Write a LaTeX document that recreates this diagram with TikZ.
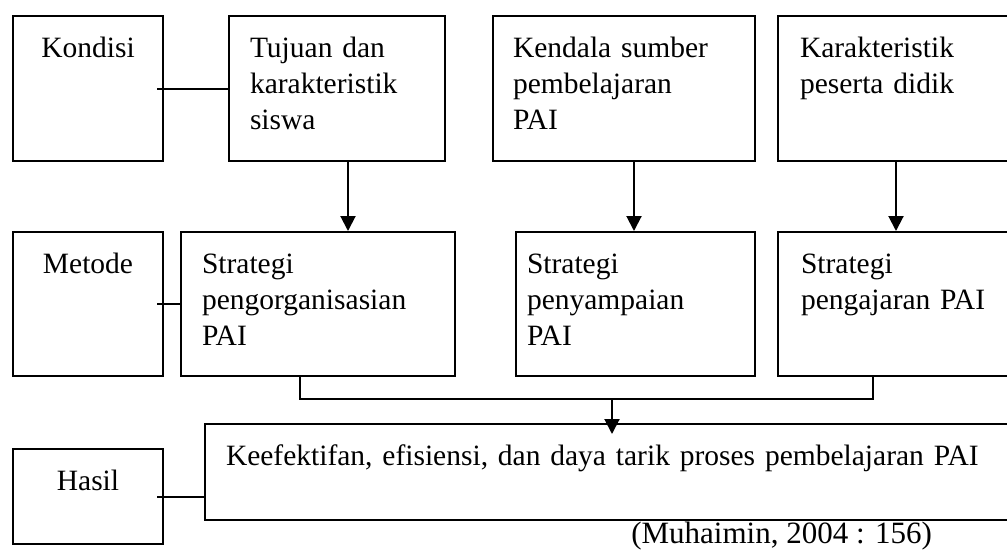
\documentclass[tikz,border=0pt]{standalone}
\usepackage{fontspec}
\setmainfont{Liberation Serif}
\usetikzlibrary{arrows.meta}

\begin{document}
\begin{tikzpicture}[x=1pt, y=-1pt, line width=2pt,
    kotak/.style={draw, rectangle, anchor=north west, inner ysep=0pt, inner xsep=20pt,
        align=left, text height=41pt, font=\fontsize{29.5}{36}\selectfont},
    judul/.style={kotak, align=center, text width=110pt},
    panah/.style={-{Triangle[length=15pt,width=15pt]}}]
            \useasboundingbox (0,0) rectangle (1007,550);
            \clip (0,0) rectangle (1007,550);

            % baris kondisi
            \node[judul, text depth=104pt] (k0) at (12,15) {Kondisi};
            \node[kotak, inner xsep=21pt, text width=174pt, text depth=104pt] (t1) at (228,15) {Tujuan dan\\karakteristik\\siswa};
            \node[kotak, text width=222pt, text depth=104pt] (t2) at (492,15) {Kendala sumber\\pembelajaran\\PAI};
            \node[kotak, inner xsep=22pt, text width=206pt, text depth=104pt] (t3) at (777,15) {Karakteristik\\peserta didik};

            % baris metode
            \node[judul, text depth=103pt] (m0) at (12,231) {Metode};
            \node[kotak, inner xsep=21pt, text width=232pt, text depth=103pt] (s1) at (180,231) {Strategi\\pengorganisasian\\PAI};
            \node[kotak, inner xsep=11pt, text width=217pt, text depth=103pt] (s2) at (515,231) {Strategi\\penyampaian\\PAI};
            \node[kotak, inner xsep=23pt, text width=204pt, text depth=103pt] (s3) at (777,231) {Strategi\\pengajaran PAI};

            % baris hasil
            \node[judul, text depth=54pt] (h0) at (12,448) {Hasil};
            \node[kotak, inner xsep=21pt, text width=788pt, text depth=55pt] (e0) at (204,423) {Keefektifan, efisiensi, dan daya tarik proses pembelajaran PAI};
            \node[anchor=base west, font=\fontsize{31}{36}\selectfont] (sumber) at (627,543.5) {(Muhaimin, 2004 : 156)};

            \coordinate (p1) at ([xshift=120pt]t1.south west);
            \coordinate (p2) at ([xshift=142pt]t2.south west);
            \coordinate (p3) at ([xshift=119pt]t3.south west);
            \coordinate (b1) at ([xshift=120pt]s1.south west);
            \coordinate (b3) at ([xshift=96pt]s3.south west);
            \coordinate (gabung) at (612,399);

            \path
            (k0.east) edge[shorten <=-7pt] (t1.west)
            (m0.east) edge[shorten <=-7pt] (s1.west)
            (h0.east) edge[shorten <=-7pt] (h0.east -| e0.west)
            (p1) edge[panah] (p1 |- s1.north)
            (p2) edge[panah] (p2 |- s2.north)
            (p3) edge[panah] (p3 |- s3.north);

            \draw (b1) |- (gabung) -| (b3);
            \draw[panah, shorten >=-11pt] (gabung) -- (gabung |- e0.north);

            \end{tikzpicture}
\end{document}
